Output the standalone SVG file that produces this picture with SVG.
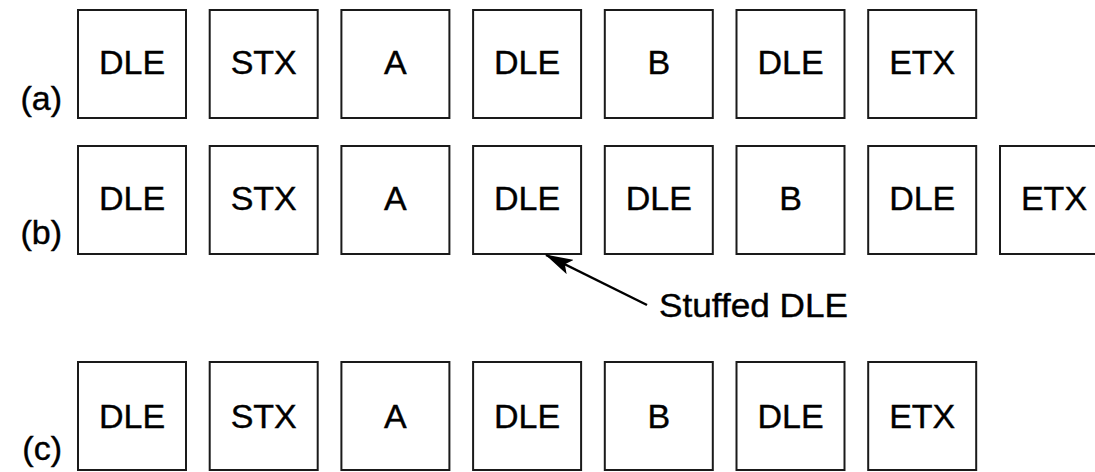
<svg xmlns="http://www.w3.org/2000/svg" width="1095" height="472" viewBox="0 0 1095 472">
<style>
.box{fill:#fff;stroke:#1a1a1a;stroke-width:2}
.t{font-family:"Liberation Sans",Arial,sans-serif;font-size:34px;fill:#000;stroke:#000;stroke-width:0.4;text-anchor:middle}
.lbl{font-family:"Liberation Sans",Arial,sans-serif;font-size:34px;fill:#000;stroke:#000;stroke-width:0.4;text-anchor:end}
</style>
<defs>
<marker id="ah" markerWidth="28" markerHeight="16" refX="27" refY="8" orient="auto" markerUnits="userSpaceOnUse">
<path d="M0,0 L28,8 L0,16 L6,8 Z" fill="#000"/>
</marker>
</defs>
<rect width="1095" height="472" fill="#fff"/>
<text class="lbl" x="62" y="110">(a)</text>
<text class="lbl" x="62" y="244">(b)</text>
<text class="lbl" x="62" y="460">(c)</text>
<g id="row-a">
<g id="a1"><rect class="box" x="78" y="10" width="108" height="108"/><text class="t" x="132" y="74">DLE</text></g>
<g id="a2"><rect class="box" x="209.7" y="10" width="108" height="108"/><text class="t" x="263.7" y="74">STX</text></g>
<g id="a3"><rect class="box" x="341.4" y="10" width="108" height="108"/><text class="t" x="395.4" y="74">A</text></g>
<g id="a4"><rect class="box" x="473.1" y="10" width="108" height="108"/><text class="t" x="527.1" y="74">DLE</text></g>
<g id="a5"><rect class="box" x="604.8" y="10" width="108" height="108"/><text class="t" x="658.8" y="74">B</text></g>
<g id="a6"><rect class="box" x="736.5" y="10" width="108" height="108"/><text class="t" x="790.5" y="74">DLE</text></g>
<g id="a7"><rect class="box" x="868.2" y="10" width="108" height="108"/><text class="t" x="922.2" y="74">ETX</text></g>
</g>
<g id="row-b">
<g id="b1"><rect class="box" x="78" y="146" width="108" height="108"/><text class="t" x="132" y="210">DLE</text></g>
<g id="b2"><rect class="box" x="209.7" y="146" width="108" height="108"/><text class="t" x="263.7" y="210">STX</text></g>
<g id="b3"><rect class="box" x="341.4" y="146" width="108" height="108"/><text class="t" x="395.4" y="210">A</text></g>
<g id="b4"><rect class="box" x="473.1" y="146" width="108" height="108"/><text class="t" x="527.1" y="210">DLE</text></g>
<g id="b5"><rect class="box" x="604.8" y="146" width="108" height="108"/><text class="t" x="658.8" y="210">DLE</text></g>
<g id="b6"><rect class="box" x="736.5" y="146" width="108" height="108"/><text class="t" x="790.5" y="210">B</text></g>
<g id="b7"><rect class="box" x="868.2" y="146" width="108" height="108"/><text class="t" x="922.2" y="210">DLE</text></g>
<g id="b8"><rect class="box" x="1000" y="146" width="108" height="108"/><text class="t" x="1054" y="210">ETX</text></g>
</g>
<g id="row-c">
<g id="c1"><rect class="box" x="78" y="362" width="108" height="108"/><text class="t" x="132" y="428">DLE</text></g>
<g id="c2"><rect class="box" x="209.7" y="362" width="108" height="108"/><text class="t" x="263.7" y="428">STX</text></g>
<g id="c3"><rect class="box" x="341.4" y="362" width="108" height="108"/><text class="t" x="395.4" y="428">A</text></g>
<g id="c4"><rect class="box" x="473.1" y="362" width="108" height="108"/><text class="t" x="527.1" y="428">DLE</text></g>
<g id="c5"><rect class="box" x="604.8" y="362" width="108" height="108"/><text class="t" x="658.8" y="428">B</text></g>
<g id="c6"><rect class="box" x="736.5" y="362" width="108" height="108"/><text class="t" x="790.5" y="428">DLE</text></g>
<g id="c7"><rect class="box" x="868.2" y="362" width="108" height="108"/><text class="t" x="922.2" y="428">ETX</text></g>
</g>
<g id="connectors">
<line x1="647" y1="305" x2="546" y2="255" stroke="#000" stroke-width="2.5" marker-end="url(#ah)"/>
</g>
<g id="label-stuffed">
<text x="659" y="317" font-family="Liberation Sans, Arial, sans-serif" font-size="34" fill="#000" stroke="#000" stroke-width="0.4" textLength="189" lengthAdjust="spacingAndGlyphs">Stuffed DLE</text>
</g>
</svg>
